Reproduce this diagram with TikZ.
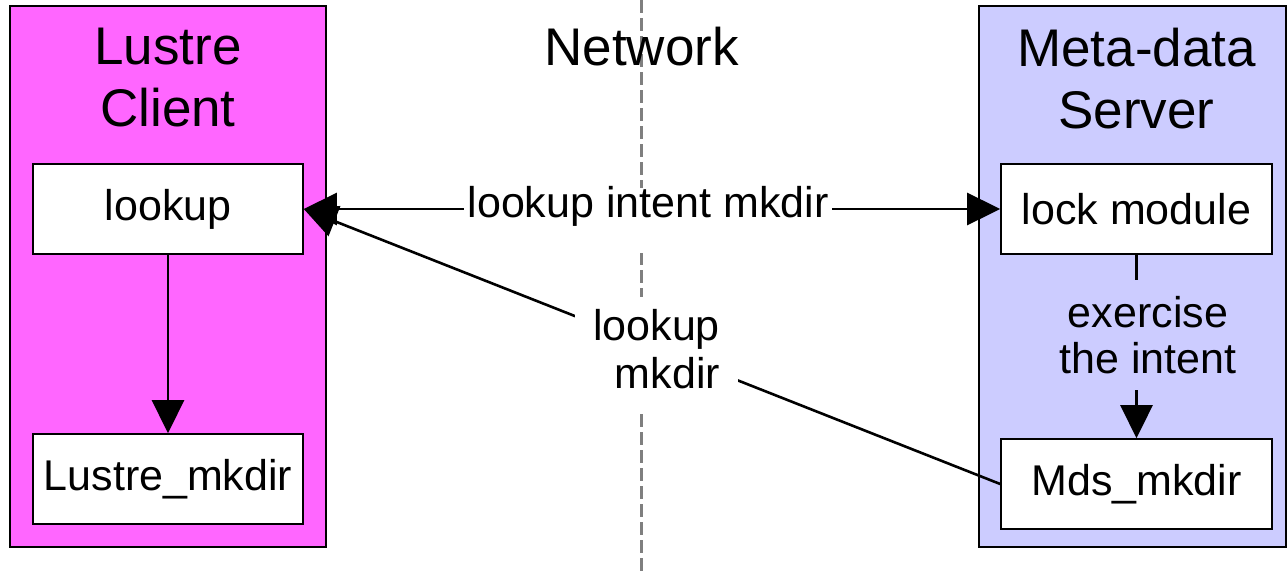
\documentclass[tikz,border=0pt]{standalone}
\usepackage{fontspec}
\setmainfont{Liberation Sans}
\usetikzlibrary{arrows.meta}
\definecolor{clientpink}{HTML}{FF66FF}
\definecolor{serverblue}{HTML}{CCCCFF}
\definecolor{netgray}{HTML}{7F7F7F}
\begin{document}
\begin{tikzpicture}[x=1pt,y=-1pt,
  outerbox/.style={draw=black, line width=1.6pt, inner sep=0pt},
  innerbox/.style={draw=black, fill=white, line width=1.6pt, minimum width=270pt, minimum height=90pt, inner sep=0pt, font=\fontsize{43}{48}\selectfont},
  titletext/.style={align=center, inner sep=0pt, anchor=north, font=\fontsize{53}{62.6}\selectfont},
  lbl/.style={font=\fontsize{43}{48}\selectfont},
  tip/.tip={Triangle[length=33pt,width=32pt]},
  conn/.style={line width=2.6pt, -tip},
  netline/.style={draw=netgray, line width=3pt, dash pattern=on 13pt off 5pt}]
\useasboundingbox (0,0) rectangle (1287,571);
% network divider
\coordinate (nettop) at (641,0);
\coordinate (netbot) at (641,571);
\draw[netline] (nettop) -- (netbot);
% outer boxes
\node[outerbox, fill=clientpink, minimum width=316pt, minimum height=541pt] (client) at (168,276.5) {};
\node[outerbox, fill=serverblue, minimum width=307pt, minimum height=541pt] (server) at (1132.5,276.5) {};
% titles
\node[titletext] (ctitle) at (168,27.5) {Lustre\\Client};
\node[titletext] (stitle) at (1136.5,27.5) {Meta-data\\Server};
\node[font=\fontsize{53}{62.6}\selectfont, inner sep=0pt, anchor=base] (net) at (641.5,65.4) {Network};
% inner boxes
\node[innerbox] (lookup) at (168,209) {\raisebox{-2pt}{lookup}};
\node[innerbox] (cmkdir) at (168,479) {Lustre\_mkdir};
\node[innerbox, minimum width=271pt] (lock) at (1136.5,209) {lock module};
\node[innerbox, minimum width=271pt] (mds) at (1136.5,484) {Mds\_mkdir};
% connectors
\draw[conn] (lookup) -- (cmkdir);
\draw[conn] (lock) -- (mds);
\draw[conn, tip-tip] (lookup.east) -- (lock.west);
\draw[conn] (mds.west) -- (lookup.east);
% labels
\node[lbl, fill=white, inner xsep=4pt, inner ysep=0pt, text height=29pt, text depth=36pt] (intentlbl) at (648,220.5) {lookup intent mkdir};
\node[lbl, fill=white, align=right, inner xsep=18pt, inner ysep=12pt, text depth=13pt, anchor=north west] (mkdirlbl) at (575,297) {lookup\\mkdir};
\node[lbl, fill=serverblue, align=center, inner xsep=5pt, inner ysep=0pt, minimum height=110pt, font=\fontsize{43}{46}\selectfont] (exlbl) at (1148,335) {exercise\\the intent};
\end{tikzpicture}
\end{document}
